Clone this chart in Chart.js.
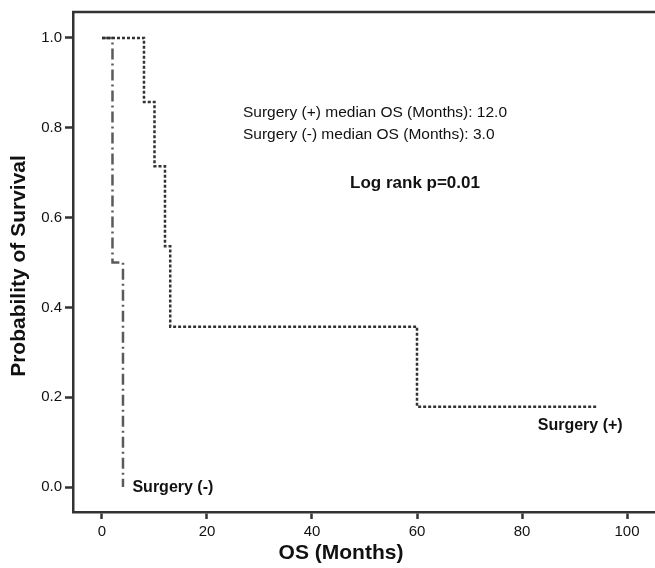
<!DOCTYPE html>
<html>
<head>
<meta charset="utf-8">
<script src="https://cdn.jsdelivr.net/npm/chart.js@4"></script>
<style>
  html, body { margin: 0; padding: 0; background: #fff; }
  #wrap { width: 655px; height: 568px; }
</style>
</head>
<body>
<div id="wrap"><canvas id="km-chart"></canvas></div>
<script>
// Kaplan-Meier step points (months, survival probability)
const surgeryPlusMonths = [0, 8, 10, 12, 13, 60, 94.5];
const surgeryPlusSurv = [1.0, 0.857, 0.714, 0.536, 0.357, 0.179, 0.179];
const surgeryMinusMonths = [0, 2, 4];
const surgeryMinusSurv = [1.0, 0.5, 0.0];

const xTicks = [0, 20, 40, 60, 80, 100];
const yTicks = [0.0, 0.2, 0.4, 0.6, 0.8, 1.0];

const medianPlus = '12.0';
const medianMinus = '3.0';
const pValue = '0.01';

const FONT = '"Liberation Sans", Arial, Helvetica, sans-serif';

function toPoints(xs, ys) {
    return xs.map((x, i) => ({ x: x, y: ys[i] }));
}

// top frame line, curve labels, axis titles and the stats text
const extras = {
    id: 'extras',
    afterDraw(chart) {
        const ctx = chart.ctx;
        const area = chart.chartArea;
        const xs = chart.scales.x;
        const ys = chart.scales.y;
        ctx.save();

        ctx.strokeStyle = '#333';
        ctx.lineWidth = 2.5;
        ctx.beginPath();
        ctx.moveTo(area.left - 1, area.top);
        ctx.lineTo(chart.width, area.top);
        ctx.stroke();

        ctx.fillStyle = '#111';
        ctx.textBaseline = 'middle';
        ctx.textAlign = 'left';
        ctx.font = '15.5px ' + FONT;
        ctx.fillText('Surgery (+) median OS (Months): ' + medianPlus, 243, 113);
        ctx.fillText('Surgery (-) median OS (Months): ' + medianMinus, 243, 135);

        ctx.font = 'bold 17px ' + FONT;
        ctx.textAlign = 'center';
        ctx.fillText('Log rank p=' + pValue, 415, 183);

        ctx.font = 'bold 16px ' + FONT;
        ctx.textAlign = 'left';
        ctx.fillText('Surgery (+)', xs.getPixelForValue(83), ys.getPixelForValue(0.137));
        ctx.fillText('Surgery (-)', xs.getPixelForValue(5.8), ys.getPixelForValue(0));

        ctx.font = 'bold 21px ' + FONT;
        ctx.textAlign = 'center';
        ctx.fillText('OS (Months)', 341, 553);

        ctx.translate(19, 266);
        ctx.rotate(-Math.PI / 2);
        ctx.fillText('Probability of Survival', 0, 0);
        ctx.restore();
    }
};

const ctx = document.getElementById('km-chart').getContext('2d');
new Chart(ctx, {
    type: 'line',
    data: {
        datasets: [{
            label: 'Surgery (+)',
            data: toPoints(surgeryPlusMonths, surgeryPlusSurv),
            stepped: 'before',
            borderColor: '#333',
            borderWidth: 2.5,
            borderDash: [3, 2],
            pointRadius: 0,
            fill: false
        }, {
            label: 'Surgery (-)',
            data: toPoints(surgeryMinusMonths, surgeryMinusSurv),
            stepped: 'before',
            borderColor: '#5a5a5a',
            borderWidth: 2.5,
            borderDash: [11, 4, 2, 4],
            pointRadius: 0,
            fill: false
        }]
    },
    options: {
        responsive: true,
        maintainAspectRatio: false,
        animation: false,
        layout: { padding: { top: 10, right: 0, left: 0, bottom: 0 } },
        plugins: {
            legend: { display: false },
            tooltip: { enabled: false }
        },
        scales: {
            x: {
                type: 'linear',
                min: -5.52,
                max: 105.33,
                afterFit: s => { s.height = 56; },
                afterBuildTicks: s => { s.ticks = xTicks.map(v => ({ value: v })); },
                grid: {
                    drawOnChartArea: false,
                    drawTicks: true,
                    tickLength: 7,
                    tickWidth: 2.5,
                    tickColor: '#333'
                },
                border: { display: true, color: '#333', width: 2.5 },
                ticks: {
                    padding: 4,
                    color: '#111',
                    font: { family: FONT, size: 15 },
                    maxRotation: 0
                }
            },
            y: {
                type: 'linear',
                min: -0.0554,
                max: 1.0576,
                afterFit: s => { s.width = 73; },
                afterBuildTicks: s => { s.ticks = yTicks.map(v => ({ value: v })); },
                grid: {
                    drawOnChartArea: false,
                    drawTicks: true,
                    tickLength: 8,
                    tickWidth: 2.5,
                    tickColor: '#333'
                },
                border: { display: true, color: '#333', width: 2.5 },
                ticks: {
                    padding: 3,
                    color: '#111',
                    font: { family: FONT, size: 15 },
                    callback: v => v.toFixed(1)
                }
            }
        }
    },
    plugins: [extras]
});
</script>
</body>
</html>
